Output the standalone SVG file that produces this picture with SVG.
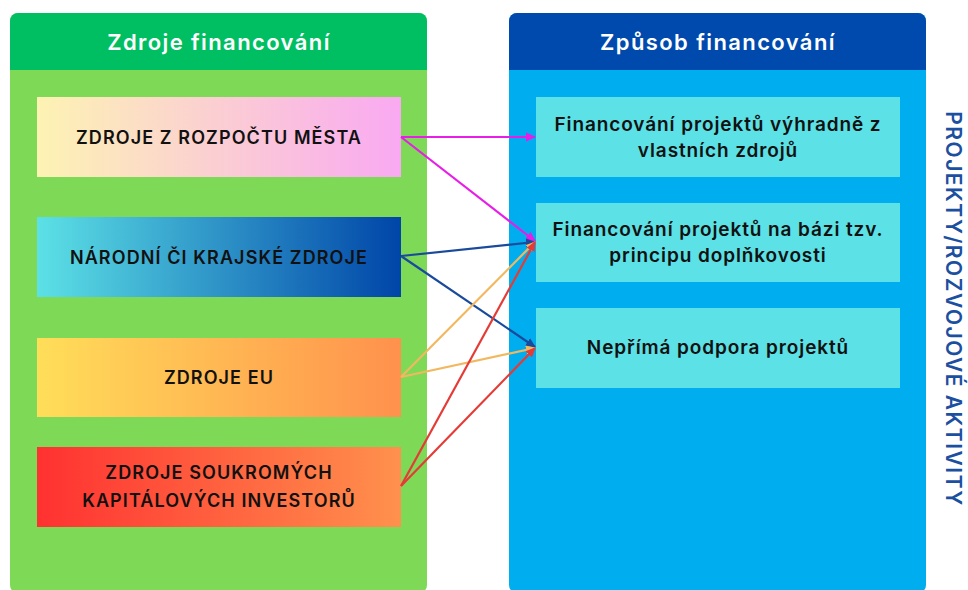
<svg xmlns="http://www.w3.org/2000/svg" width="968" height="590" viewBox="0 0 968 590">
<defs>
<linearGradient id="g1" x1="0" x2="1" y1="0" y2="0"><stop offset="0" stop-color="#fdf3b3"/><stop offset="1" stop-color="#f9a9f2"/></linearGradient>
<linearGradient id="g2" x1="0" x2="1" y1="0" y2="0"><stop offset="0" stop-color="#5ce1e6"/><stop offset="1" stop-color="#0045a8"/></linearGradient>
<linearGradient id="g3" x1="0" x2="1" y1="0" y2="0"><stop offset="0" stop-color="#ffde59"/><stop offset="1" stop-color="#ff914d"/></linearGradient>
<linearGradient id="g4" x1="0" x2="1" y1="0" y2="0"><stop offset="0" stop-color="#ff3131"/><stop offset="1" stop-color="#ff914d"/></linearGradient>
<marker id="mM" markerWidth="10" markerHeight="10" refX="9" refY="5" orient="auto" markerUnits="userSpaceOnUse"><path d="M0,0.5 L10,5 L0,9.5 z" fill="#e61ee6"/></marker>
<marker id="mB" markerWidth="10" markerHeight="10" refX="9" refY="5" orient="auto" markerUnits="userSpaceOnUse"><path d="M0,0.5 L10,5 L0,9.5 z" fill="#1a4a9c"/></marker>
<marker id="mY" markerWidth="10" markerHeight="10" refX="9" refY="5" orient="auto" markerUnits="userSpaceOnUse"><path d="M0,0.5 L10,5 L0,9.5 z" fill="#f2b85f"/></marker>
<marker id="mR" markerWidth="10" markerHeight="10" refX="9" refY="5" orient="auto" markerUnits="userSpaceOnUse"><path d="M0,0.5 L10,5 L0,9.5 z" fill="#e53b36"/></marker>
<style>
.hdr{font-family:Inter,"Noto Sans","DejaVu Sans",sans-serif;font-size:22px;font-weight:600;letter-spacing:1.4px;fill:#ffffff;text-anchor:middle}
.nt{font-family:Inter,"Noto Sans","DejaVu Sans",sans-serif;font-size:18px;font-weight:600;letter-spacing:1.1px;fill:#111111;text-anchor:middle}
.rt{font-family:Inter,"Noto Sans","DejaVu Sans",sans-serif;font-size:19px;font-weight:600;letter-spacing:0.9px;fill:#111111;text-anchor:middle}
.side{font-family:Inter,"Noto Sans","DejaVu Sans",sans-serif;font-size:21px;font-weight:600;letter-spacing:1.5px;fill:#1b4f9f;text-anchor:middle}
.c{fill:none;stroke-width:2.2}
</style>
</defs>
<rect width="968" height="590" fill="#ffffff"/>
<g id="panel-left">
<rect x="10" y="13" width="417" height="580" rx="8" fill="#7ed957"/>
<path d="M10,70 V21 a8,8 0 0 1 8,-8 H419 a8,8 0 0 1 8,8 V70 z" fill="#00bf63"/>
<text class="hdr" x="219" y="50">Zdroje financování</text>
</g>
<g id="panel-right">
<rect x="509" y="13" width="417" height="580" rx="8" fill="#00aeef"/>
<path d="M509,70 V21 a8,8 0 0 1 8,-8 H918 a8,8 0 0 1 8,8 V70 z" fill="#004aad"/>
<text class="hdr" x="718" y="50">Způsob financování</text>
</g>
<g id="src1"><rect x="37" y="97" width="364" height="80" fill="url(#g1)"/><text class="nt" x="219" y="144">ZDROJE Z ROZPOČTU MĚSTA</text></g>
<g id="src2"><rect x="37" y="217" width="364" height="80" fill="url(#g2)"/><text class="nt" x="219" y="264">NÁRODNÍ ČI KRAJSKÉ ZDROJE</text></g>
<g id="src3"><rect x="37" y="338" width="364" height="79" fill="url(#g3)"/><text class="nt" x="219" y="384">ZDROJE EU</text></g>
<g id="src4"><rect x="37" y="447" width="364" height="80" fill="url(#g4)"/><text class="nt" x="219" y="479">ZDROJE SOUKROMÝCH</text><text class="nt" x="219" y="507">KAPITÁLOVÝCH INVESTORŮ</text></g>
<g id="way1"><rect x="536" y="97" width="364" height="80" fill="#5ce1e6"/><text class="rt" x="718" y="131">Financování projektů výhradně z</text><text class="rt" x="718" y="157">vlastních zdrojů</text></g>
<g id="way2"><rect x="536" y="203" width="364" height="79" fill="#5ce1e6"/><text class="rt" x="718" y="236">Financování projektů na bázi tzv.</text><text class="rt" x="718" y="262">principu doplňkovosti</text></g>
<g id="way3"><rect x="536" y="308" width="364" height="80" fill="#5ce1e6"/><text class="rt" x="718" y="354">Nepřímá podpora projektů</text></g>
<g id="side-label"><text class="side" transform="translate(946,309) rotate(90)">PROJEKTY/ROZVOJOVÉ AKTIVITY</text></g>
<g id="connectors">
<line class="c" x1="401" y1="137" x2="535" y2="137" stroke="#e61ee6" marker-end="url(#mM)"/>
<line class="c" x1="401" y1="137" x2="535" y2="241" stroke="#e61ee6" marker-end="url(#mM)"/>
<line class="c" x1="401" y1="256" x2="535" y2="242" stroke="#1a4a9c" marker-end="url(#mB)"/>
<line class="c" x1="401" y1="256" x2="535" y2="347" stroke="#1a4a9c" marker-end="url(#mB)"/>
<line class="c" x1="401" y1="377" x2="535" y2="242" stroke="#f2b85f" marker-end="url(#mY)"/>
<line class="c" x1="401" y1="377" x2="535" y2="348" stroke="#f2b85f" marker-end="url(#mY)"/>
<line class="c" x1="401" y1="486" x2="535" y2="242" stroke="#e53b36" marker-end="url(#mR)"/>
<line class="c" x1="401" y1="486" x2="535" y2="348" stroke="#e53b36" marker-end="url(#mR)"/>
</g>
</svg>
